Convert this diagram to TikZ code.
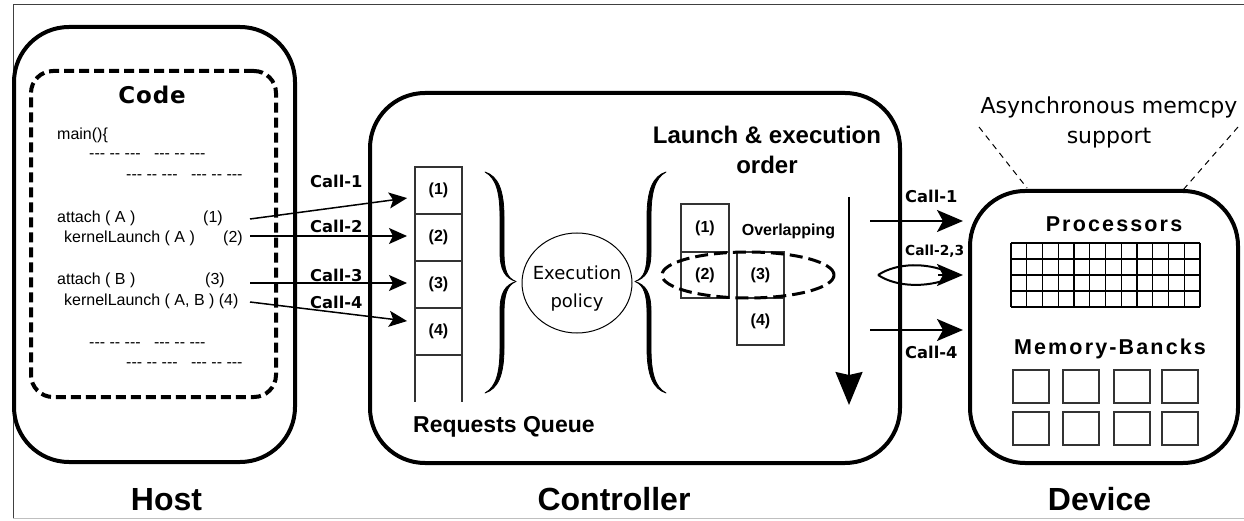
\documentclass[tikz,border=0pt]{standalone}
\usepackage{fontspec}
\setmainfont{Liberation Sans}
\newfontfamily\dvs{DejaVu Sans}
\newfontfamily\trk{Liberation Sans}[LetterSpace=10]
\usetikzlibrary{arrows.meta,calc,shapes.geometric}
\newcommand\myfs[1]{\fontsize{#1}{#1}\selectfont}
\newcommand\dsh{-\kern0pt-\kern0pt-}
\newcommand\dd{-\kern0pt-}
\newcommand\dline{\dsh\ \dd\ \dsh\ \ \ \dsh\ \dd\ \dsh}
\begin{document}
\begin{tikzpicture}[x=1pt,y=-1pt,
  bigbox/.style={draw, line width=4pt, rounded corners=55pt, inner sep=0pt, outer sep=0pt},
  thinl/.style={draw=black!80, line width=1.2pt},
  cell/.style={thinl, inner sep=0pt, outer sep=0pt, font=\bfseries\myfs{16}},
  codetxt/.style={anchor=base west, inner sep=0pt, font=\myfs{16}},
  calllbl/.style={anchor=base west, inner sep=0pt, font=\dvs\bfseries\myfs{16.3}},
  bigttl/.style={inner sep=0pt, anchor=base, font=\bfseries\myfs{32}},
  callarr/.style={line width=1.5pt, -{Stealth[length=18pt,width=16pt,inset=4pt]}, shorten >=8pt},
  devarr/.style={line width=2pt, -{Stealth[length=26pt,width=22pt,inset=6pt]}, shorten >=7pt},
  brcline/.style={fill=black, draw=black, line width=0.8pt, line join=round},
  brc/.pic={
    \path[brcline] (0,0) .. controls (13,4) and (19,18) .. (19,45) -- (19,80)
      .. controls (19,98) and (22,106) .. (31,109.5)
      .. controls (20,106) and (15,98) .. (15,80) -- (15,45)
      .. controls (15,20) and (11,6) .. (0,0) -- cycle;
    \path[brcline] (0,221) .. controls (13,217) and (19,203) .. (19,176) -- (19,141)
      .. controls (19,123) and (22,113) .. (31,109.5)
      .. controls (20,113) and (15,121) .. (15,139) -- (15,176)
      .. controls (15,201) and (11,215) .. (0,221) -- cycle;
  },
]
\useasboundingbox (0,0) rectangle (1244,521);
% outer frame
\draw[black!75, line width=1pt] (13,518) -- (13,5) -- (1244,5);
\draw[black!25, line width=1pt] (13,518) -- (1244,518);

% ---------------- Host ----------------
\node[bigbox, minimum width=281pt, minimum height=435pt] (host) at (154.5,244.5) {};
\node[draw, line width=4pt, dash pattern=on 10pt off 5pt, rounded corners=22pt,
      minimum width=245pt, minimum height=326pt, inner sep=0pt] (code) at (153.5,234) {};
\node[anchor=base, inner sep=0pt, font=\dvs\bfseries\addfontfeature{LetterSpace=4}\myfs{23}] (codettl) at (152,104) {Code};
\node[codetxt] (l0) at (57,140) {main()\{};
\node[codetxt] (l1) at (89,159) {\dline};
\node[codetxt] (l2) at (126,180) {\dline};
\node[codetxt] (l3) at (57,223) {attach ( A )};
\node[codetxt] (n1) at (203,223) {(1)};
\node[codetxt] (l4) at (64,243) {kernelLaunch ( A )};
\node[codetxt] (n2) at (223,243) {(2)};
\node[codetxt] (l5) at (57,284) {attach ( B )};
\node[codetxt] (n3) at (205,284) {(3)};
\node[codetxt] (l6) at (64,305) {kernelLaunch ( A, B ) (4)};
\node[codetxt] (l7) at (89,347) {\dline};
\node[codetxt] (l8) at (126,367) {\dline};
\node[bigttl] (hostlbl) at (166.5,510) {Host};

% ---------------- Controller ----------------
\node[bigbox, minimum width=530pt, minimum height=370pt] (ctrl) at (635,278) {};
\node[cell, minimum width=47pt, minimum height=47pt] (q1) at (438.5,190.5) {(1)};
\node[cell, minimum width=47pt, minimum height=47pt] (q2) at (438.5,237.5) {(2)};
\node[cell, minimum width=47pt, minimum height=47pt] (q3) at (438.5,284.5) {(3)};
\node[cell, minimum width=47pt, minimum height=47pt] (q4) at (438.5,331.5) {(4)};
\draw[thinl] (q4.south west) -- ++(0,47);
\draw[thinl] (q4.south east) -- ++(0,47);
\node[anchor=base west, inner sep=0pt, font=\bfseries\myfs{23}] (rq) at (413,432) {Requests Queue};

\pic at (485,172) {brc};
\node[draw, ellipse, line width=1pt, minimum width=110pt, minimum height=100pt, inner sep=0pt] (pol) at (577,283) {};
\node[align=center, inner sep=0pt, font=\dvs\fontsize{18}{28}\selectfont] (poltxt) at (577,289) {Execution\\policy};
\pic[xscale=-1] at (666,172) {brc};

\node[align=center, inner sep=0pt, font=\bfseries\fontsize{24}{30}\selectfont] (launch) at (767,149.5) {Launch \& execution\\order};
\node[anchor=base, inner sep=0pt, font=\bfseries\myfs{16}] (ovl) at (788.5,236) {Overlapping};
\node[cell, minimum width=48pt, minimum height=48pt] (e1) at (705,228) {(1)};
\node[cell, minimum width=48pt, minimum height=46pt] (e2) at (705,275) {(2)};
\node[cell, minimum width=47pt, minimum height=46pt] (e3) at (760.5,275) {(3)};
\node[cell, minimum width=47pt, minimum height=47pt] (e4) at (760.5,321.5) {(4)};
\node[draw, ellipse, line width=3pt, dash pattern=on 13pt off 6pt, minimum width=172pt, minimum height=46pt, inner sep=0pt] (ov) at (748,275) {};
\coordinate (ordA) at (849,197);
\coordinate (ordB) at (849,405);
\draw[line width=2pt, -{Stealth[length=33pt,width=27pt,inset=3pt]}] (ordA) -- (ordB);
\node[bigttl] (ctrllbl) at (614,510) {Controller};

% host -> queue
\coordinate (s1) at (250,219);
\coordinate (s2) at (250,236);
\coordinate (s3) at (250,283);
\coordinate (s4) at (250,302);
\draw[callarr] (s1) -- ([yshift=-6.5pt]q1.west);
\draw[callarr] (s2) -- (s2 -| q2.west);
\draw[callarr] (s3) -- (s3 -| q3.west);
\draw[callarr] (s4) -- ([yshift=9.5pt]q4.west);
\node[calllbl] (cl1) at (310,188) {Call-1};
\node[calllbl] (cl2) at (310,233) {Call-2};
\node[calllbl] (cl3) at (310,281) {Call-3};
\node[calllbl] (cl4) at (310,308) {Call-4};

% ---------------- Device ----------------
\node[bigbox, minimum width=268pt, minimum height=272pt] (dev) at (1104,327) {};
\node[align=center, inner sep=0pt, font=\dvs\fontsize{22}{30}\selectfont] (async) at (1109,122.5) {Asynchronous memcpy\\support};
\coordinate (da1) at (979,127);
\coordinate (da2) at (1027,188);
\coordinate (db1) at (1238,127);
\coordinate (db2) at (1183,190);
\draw[line width=1pt, dash pattern=on 6pt off 5pt] (da1) -- (da2);
\draw[line width=1pt, dash pattern=on 6pt off 5pt] (db1) -- (db2);

\node[anchor=base, inner sep=0pt, font=\trk\bfseries\myfs{21.5}] (proc) at (1114,232) {Processors};
\foreach \i in {0,...,12} \draw[line width=1.4pt] ({1011+\i*15.75},243) -- ({1011+\i*15.75},307);
\foreach \j in {0,...,4} \draw[line width=1.4pt] (1011,{243+\j*16}) -- (1200,{243+\j*16});
\node[anchor=base, inner sep=0pt, font=\trk\bfseries\myfs{21.5}] (mem) at (1110,354) {Memory-Bancks};
\foreach \x [count=\i] in {1013,1063,1114,1162}
  \foreach \y [count=\j] in {370,412}
    \node[cell, minimum width=36pt, minimum height=33pt, anchor=north west] (m-\i-\j) at (\x,\y) {};
\node[bigttl] (devlbl) at (1099.5,510) {Device};

% controller -> device
\coordinate (r1) at (870,221);
\coordinate (r23) at (878,275);
\coordinate (r23b) at (938,275);
\coordinate (r4) at (870,330);
\draw[devarr] (r1) -- (r1 -| dev.west);
\draw[line width=2pt] (r23) .. controls (898,262) and (928,263) .. (948,272);
\draw[line width=2pt] (r23) .. controls (898,288) and (928,287) .. (948,279);
\draw[devarr] (r23b) -- (r23b -| dev.west);
\draw[devarr] (r4) -- (r4 -| dev.west);
\node[calllbl] (cr1) at (905,203) {Call-1};
\node[calllbl, font=\dvs\bfseries\myfs{13.8}] (cr23) at (905,255) {Call-2,3};
\node[calllbl] (cr4) at (905,358) {Call-4};
\end{tikzpicture}
\end{document}
